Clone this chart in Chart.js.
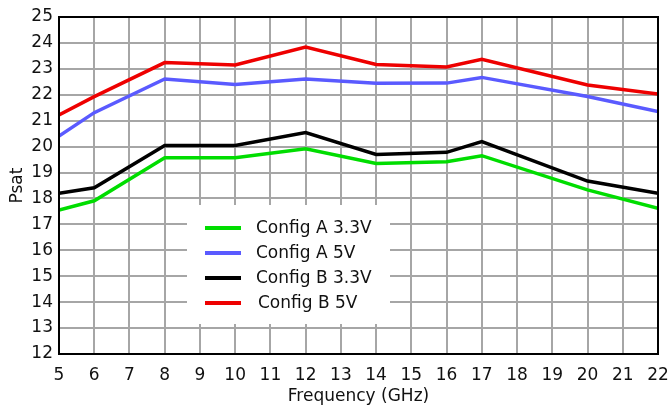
<!DOCTYPE html>
<html><head><meta charset="utf-8">
<script src="https://cdn.jsdelivr.net/npm/chart.js@4"></script>
<style>html,body{margin:0;padding:0;background:#fff}#wrap{width:672px;height:407px}</style>
</head><body><div id="wrap"><canvas id="c" width="672" height="407"></canvas></div>
<script>
const freqs = [5, 6, 8, 10, 12, 14, 16, 17, 20, 22];
const configA33 = [17.55, 17.91, 19.57, 19.57, 19.92, 19.35, 19.42, 19.65, 18.33, 17.62];
const configA5  = [20.41, 21.31, 22.61, 22.40, 22.61, 22.44, 22.45, 22.67, 21.93, 21.35];
const configB33 = [18.20, 18.41, 20.04, 20.04, 20.54, 19.70, 19.78, 20.19, 18.67, 18.20];
const configB5  = [21.22, 21.93, 23.24, 23.15, 23.84, 23.17, 23.07, 23.37, 22.38, 22.03];
const seriesNames = ['Config A 3.3V', 'Config A 5V', 'Config B 3.3V', 'Config B 5V'];
const seriesColors = ['#00dd00', '#5a5aff', '#000000', '#ee0000'];
const seriesValues = [configA33, configA5, configB33, configB5];

const FONT = '"DejaVu Sans", Verdana, sans-serif';

const legendPlugin = {
  id: 'boxLegend',
  afterDatasetsDraw(chart) {
    const ctx = chart.ctx;
    ctx.save();
    ctx.fillStyle = '#fff';
    ctx.fillRect(187, 205, 203, 119);
    chart.data.datasets.forEach((ds, i) => {
      const y = 228 + i * 25;
      ctx.strokeStyle = ds.borderColor;
      ctx.lineWidth = 4;
      ctx.beginPath(); ctx.moveTo(205, y); ctx.lineTo(241, y); ctx.stroke();
      ctx.fillStyle = '#111';
      ctx.font = '17px ' + FONT;
      ctx.textBaseline = 'middle';
      ctx.fillText(ds.label, 256 + (i === 3 ? 2 : 0), y + 1);
    });
    ctx.restore();
  },
  afterDraw(chart) {
    const a = chart.chartArea, ctx = chart.ctx;
    ctx.save();
    ctx.strokeStyle = '#000';
    ctx.lineWidth = 2;
    ctx.strokeRect(a.left, a.top, a.right - a.left, a.bottom - a.top);
    ctx.restore();
  }
};

new Chart(document.getElementById('c'), {
  type: 'line',
  data: {
    datasets: seriesNames.map((n, i) => ({
      label: n,
      data: freqs.map((f, j) => ({x: f, y: seriesValues[i][j]})),
      borderColor: seriesColors[i],
      backgroundColor: seriesColors[i],
      borderWidth: 3.5,
      pointRadius: 0,
      tension: 0,
      fill: false
    }))
  },
  options: {
    responsive: false,
    animation: false,
    layout: {padding: {left: 0, right: 14, top: 17, bottom: 0}},
    plugins: {legend: {display: false}, tooltip: {enabled: false}},
    scales: {
      x: {
        type: 'linear', min: 5, max: 22,
        ticks: {stepSize: 1, color: '#111', font: {family: FONT, size: 17}, padding: 11, maxRotation: 0, autoSkip: false},
        grid: {color: '#a6a6a6', lineWidth: 2, drawTicks: false},
        border: {display: false},
        title: {display: true, text: 'Frequency (GHz)', color: '#111', font: {family: FONT, size: 17}, padding: {top: 0, bottom: 0}},
        afterFit(s) { s.height = 53; s.paddingLeft = 0; s.paddingRight = 0; }
      },
      y: {
        min: 12, max: 25,
        ticks: {stepSize: 1, color: '#111', font: {family: FONT, size: 17}, padding: 6},
        grid: {color: '#a6a6a6', lineWidth: 2, drawTicks: false},
        border: {display: false},
        title: {display: true, text: 'Psat', color: '#111', font: {family: FONT, size: 17}, padding: {top: 7, bottom: 0}},
        afterFit(s) { s.width = 59; s.paddingTop = 0; s.paddingBottom = 0; }
      }
    }
  },
  plugins: [legendPlugin]
});
</script></body></html>
